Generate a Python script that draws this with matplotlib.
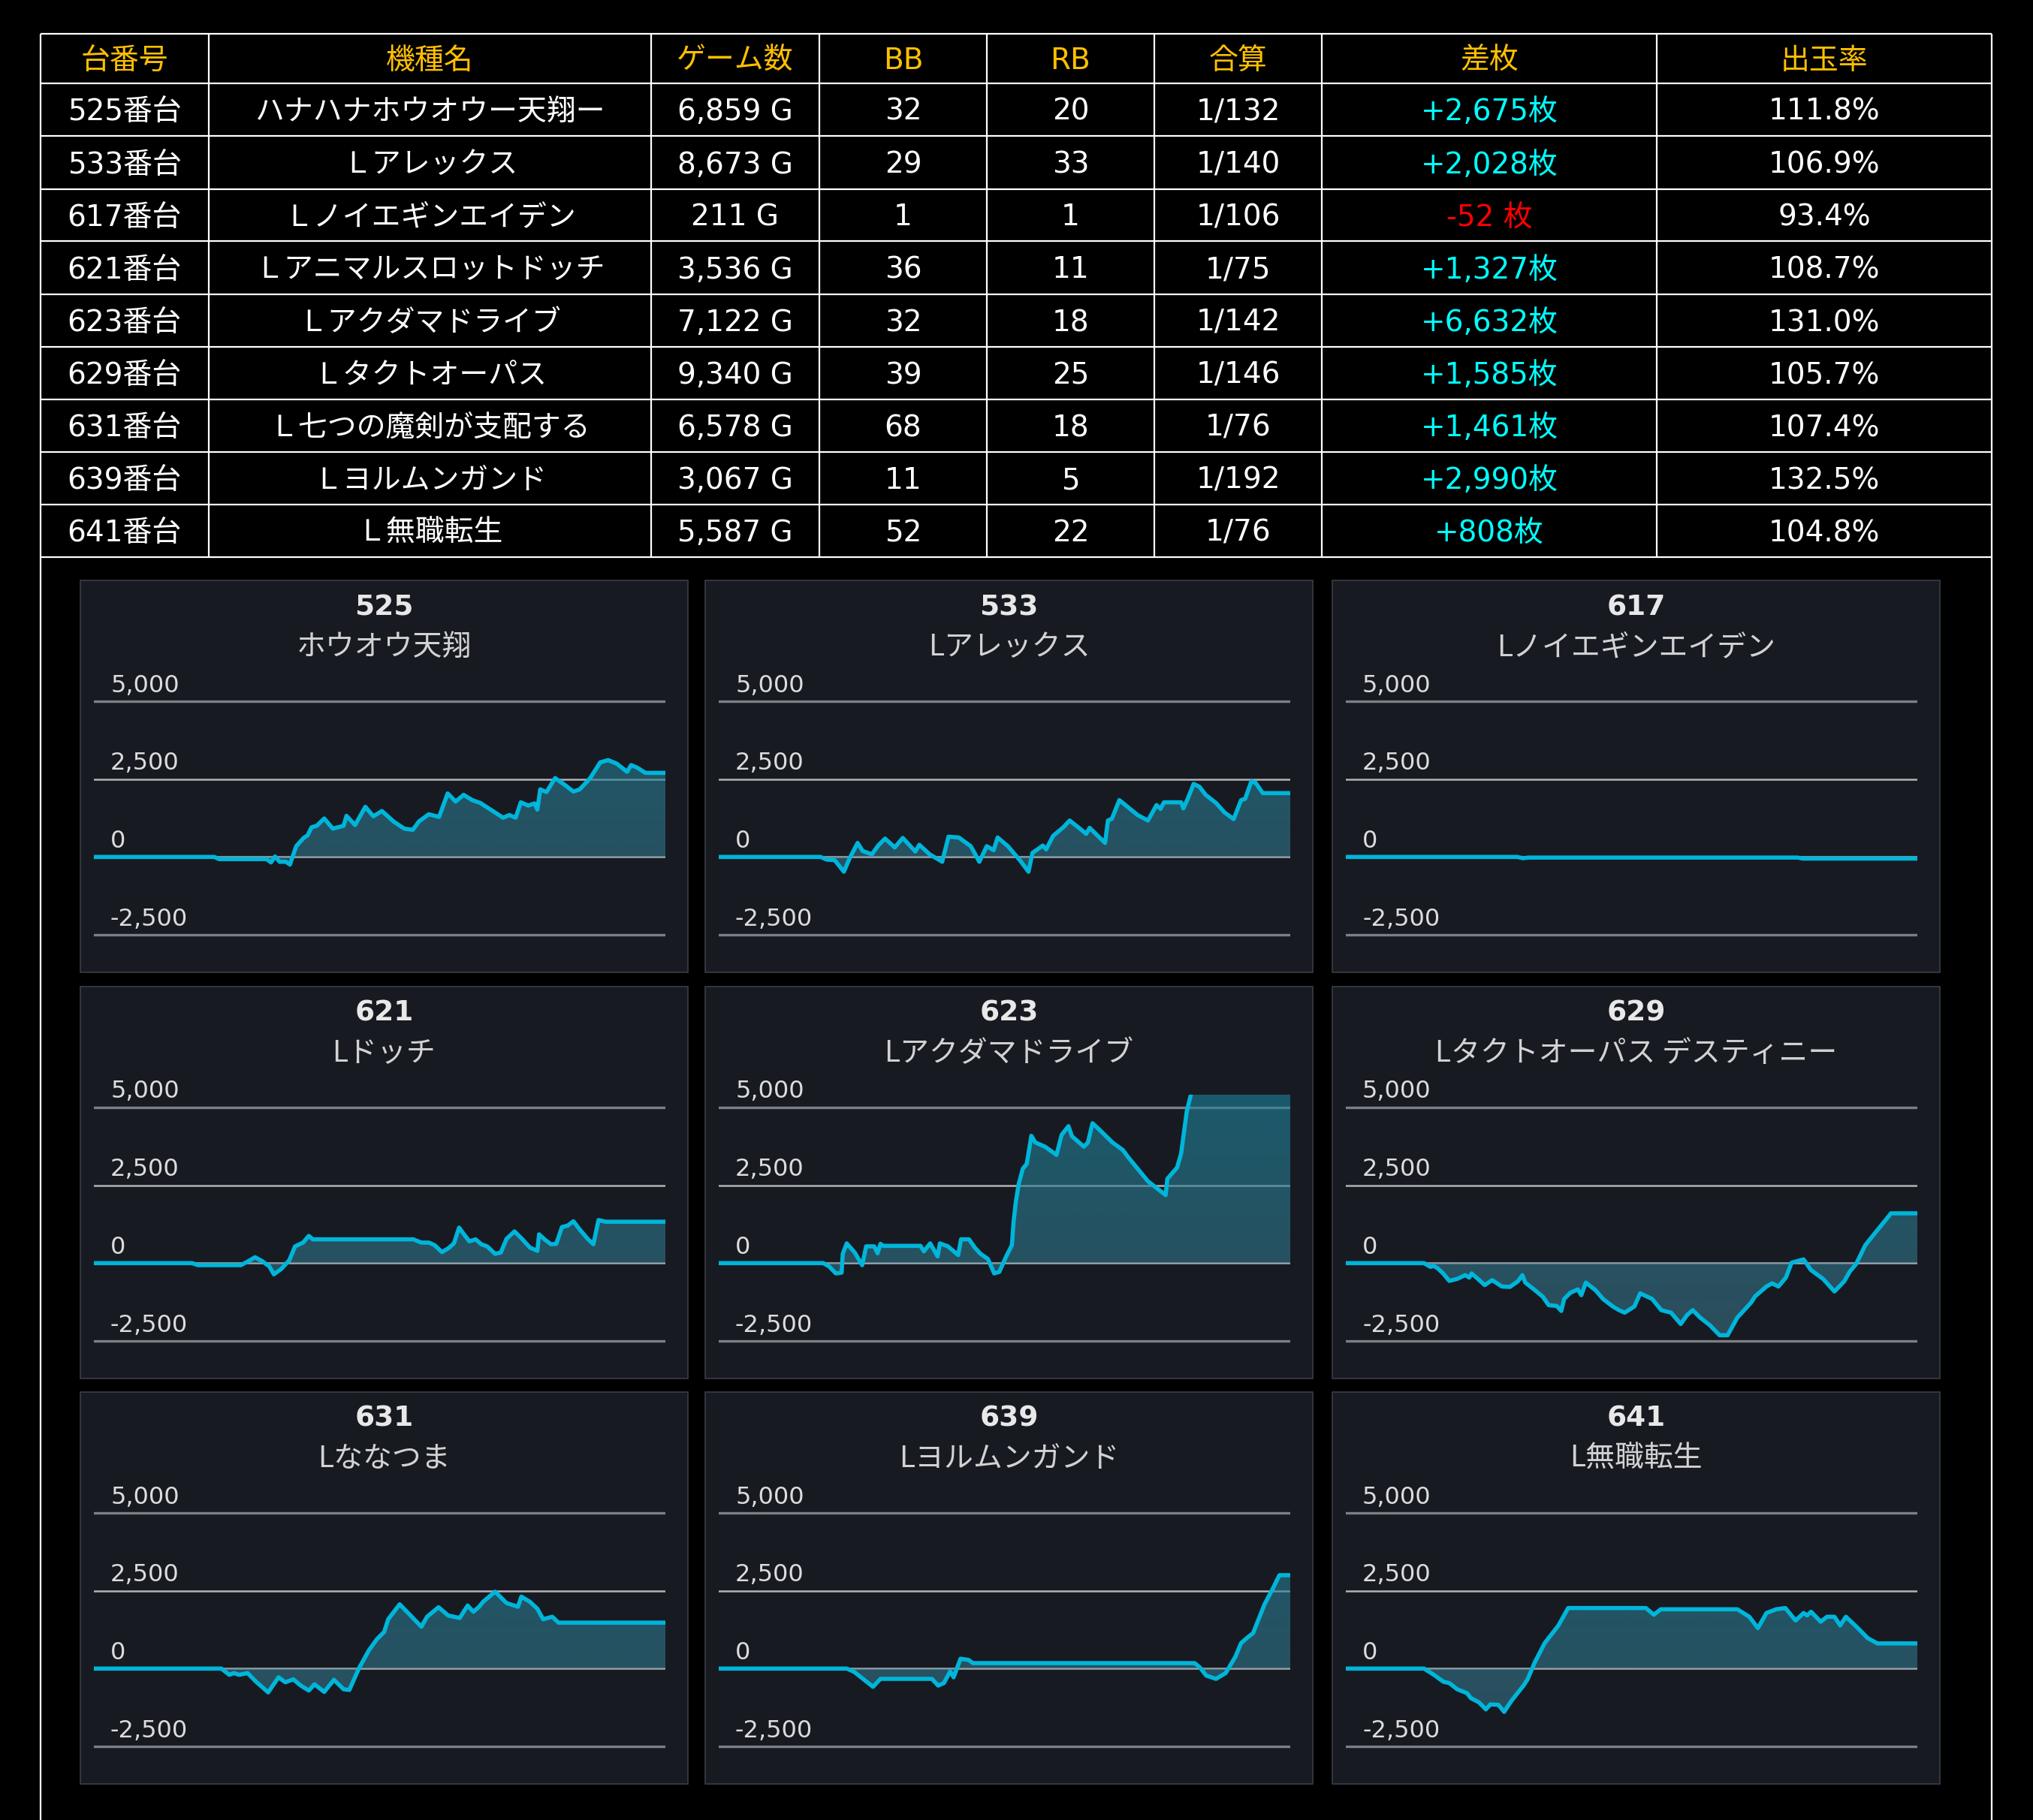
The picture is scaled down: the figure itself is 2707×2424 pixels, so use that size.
import matplotlib
matplotlib.use("agg")
import matplotlib.pyplot as plt
import matplotlib.transforms as mtransforms
from matplotlib.patches import Rectangle
import numpy as np

# ---------------- table data ----------------
headers = ['台番号', '機種名', 'ゲーム数', 'BB', 'RB', '合算', '差枚', '出玉率']
dai = ['525', '533', '617', '621', '623', '629', '631', '639', '641']
kishu = ['ハナハナホウオウー天翔ー', 'Ｌアレックス', 'Ｌノイエギンエイデン',
         'Ｌアニマルスロットドッチ', 'Ｌアクダマドライブ', 'Ｌタクトオーパス',
         'Ｌ七つの魔剣が支配する', 'Ｌヨルムンガンド', 'Ｌ無職転生']
games = [6859, 8673, 211, 3536, 7122, 9340, 6578, 3067, 5587]
bb = [32, 29, 1, 36, 32, 39, 68, 11, 52]
rb = [20, 33, 1, 11, 18, 25, 18, 5, 22]
gassan = ['1/132', '1/140', '1/106', '1/75', '1/142', '1/146', '1/76', '1/192', '1/76']
samai = [2675, 2028, -52, 1327, 6632, 1585, 1461, 2990, 808]
rate = [111.8, 106.9, 93.4, 108.7, 131.0, 105.7, 107.4, 132.5, 104.8]

# ---------------- graph data (x = % of play, y = coins) ----------------
sub_names = ['ホウオウ天翔', 'Lアレックス', 'Lノイエギンエイデン', 'Lドッチ', 'Lアクダマドライブ',
             'Lタクトオーパス デスティニー', 'Lななつま', 'Lヨルムンガンド', 'L無職転生']
y_ticks = [-2500, 0, 2500, 5000]

x525 = [0, 21.1, 21.9, 30.2, 31.0, 31.7, 32.5, 33.6, 34.3, 35.4, 36.7, 37.4, 38.1, 39.0, 40.3, 41.8,
        43.7, 44.2, 45.7, 47.5, 48.9, 50.4, 52.5, 54.3, 55.8, 56.9, 58.6, 60.4, 61.9, 63.3, 64.7,
        66.2, 67.6, 69.8, 71.6, 72.7, 73.8, 74.7, 76.0, 77.1, 77.6, 78.1, 79.2, 80.7, 82.5, 83.9,
        85.0, 86.8, 88.6, 90.0, 91.5, 93.3, 94.0, 95.1, 96.5, 100]
y525 = [0, 0, -70, -70, -175, 15, -155, -155, -245, 345, 610, 695, 955, 1000, 1235, 910,
        1000, 1320, 1025, 1610, 1305, 1475, 1130, 910, 870, 1145, 1370, 1285, 2040, 1780, 1995,
        1825, 1735, 1475, 1260, 1345, 1260, 1755, 1650, 1720, 1520, 2170, 2085, 2535, 2300, 2100,
        2170, 2520, 3040, 3110, 2995, 2735, 2950, 2865, 2700, 2700]

x533 = [0, 17.8, 18.9, 20.3, 21.9, 22.9, 24.3, 25.2, 26.8, 27.9, 29.1, 30.8, 32.2, 34.4, 35.1, 36.9,
        39.1, 40.2, 42.0, 44.1, 45.6, 46.9, 48.1, 48.8, 50.6, 52.8, 54.2, 54.9, 56.7, 57.3, 58.5,
        60.3, 61.4, 63.2, 64.3, 64.9, 67.6, 68.1, 68.8, 70.1, 73.3, 75.1, 76.6, 77.3, 77.9, 80.9,
        81.3, 82.0, 83.1, 84.1, 85.2, 87.0, 88.5, 90.1, 91.4, 92.1, 93.2, 93.9, 95.2, 100]
y533 = [0, 0, -85, -105, -475, -45, 450, 190, 85, 365, 590, 305, 610, 175, 390, 85,
        -155, 650, 625, 345, -155, 345, 215, 625, 345, -130, -475, 130, 365, 245, 675,
        955, 1170, 910, 740, 935, 450, 1170, 1230, 1825, 1345, 1170, 1665, 1545, 1755, 1755,
        1560, 1840, 2345, 2255, 1995, 1735, 1430, 1215, 1825, 1865, 2430, 2390, 2050, 2050]

x617 = [0, 30, 31, 32, 79, 80, 100]
y617 = [0, 0, -40, -20, -20, -52, -52]

x621 = [0, 17.2, 18.2, 25.7, 27.1, 28.2, 29.4, 30.7, 31.5, 32.8, 34.2, 35.2, 36.6, 37.6, 38.3,
        55.9, 57.3, 58.6, 59.6, 60.9, 62.0, 63.0, 63.9, 64.7, 65.7, 66.8, 67.8, 68.8, 70.2, 71.2,
        72.2, 73.6, 74.9, 76.3, 77.6, 77.9, 79.0, 80.0, 80.9, 81.9, 82.9, 83.9, 85.1, 86.4, 87.4,
        88.3, 89.5, 100]
y621 = [0, 0, -65, -65, 70, 190, 70, -105, -360, -185, 95, 540, 660, 875, 765,
        765, 660, 660, 580, 355, 475, 635, 1140, 940, 700, 765, 605, 540, 300, 340,
        780, 1020, 780, 500, 395, 925, 740, 605, 620, 1160, 1205, 1345, 1060, 780, 605,
        1385, 1330, 1330]

x623 = [0, 18.3, 19.3, 20.5, 21.5, 21.7, 22.4, 23.8, 25.1, 25.8, 27.2, 27.8, 28.3, 28.8, 35.3,
        35.9, 37.0, 38.3, 38.7, 40.1, 41.9, 42.4, 43.8, 44.8, 45.8, 47.1, 48.2, 49.1, 50.3, 51.3,
        51.6, 52.0, 52.5, 53.2, 53.9, 54.7, 55.4, 57.1, 59.1, 60.0, 61.2, 61.8, 63.9, 64.6, 65.4,
        66.9, 68.9, 70.7, 71.7, 75.1, 76.5, 78.2, 78.5, 80.2, 80.9, 81.9, 82.6, 83.5, 100]
y623 = [0, 0, -105, -330, -305, 300, 635, 340, -65, 540, 540, 315, 620, 555, 555,
        380, 635, 215, 635, 540, 260, 765, 765, 500, 300, 135, -330, -280, 215, 580,
        1345, 1985, 2550, 3030, 3190, 4090, 3875, 3740, 3475, 4120, 4400, 4075, 3740, 3875, 4495,
        4235, 3875, 3635, 3390, 2630, 2430, 2185, 2710, 3070, 3515, 4880, 5400, 6632, 6632]

x629 = [0, 13.7, 14.8, 15.4, 16.1, 17.1, 18.1, 19.5, 20.9, 21.6, 22.0, 23.1, 24.3, 25.6, 27.3,
        28.7, 30.1, 30.9, 31.4, 33.1, 34.5, 35.5, 36.9, 37.7, 38.2, 39.3, 40.6, 41.2, 42.0, 43.7,
        45.0, 46.7, 47.8, 48.8, 50.5, 51.5, 53.6, 55.2, 56.9, 58.6, 59.7, 60.7, 62.0, 63.7, 65.4,
        66.8, 68.5, 70.9, 71.6, 73.6, 74.6, 75.7, 77.0, 78.0, 80.1, 81.4, 83.5, 85.5, 87.2, 88.2,
        89.3, 90.9, 93.0, 95.4, 100]
y629 = [0, 0, -120, -90, -170, -345, -570, -505, -385, -465, -330, -505, -705, -545, -750,
        -765, -585, -385, -625, -870, -1085, -1350, -1375, -1535, -1150, -950, -845, -1030, -625, -870,
        -1150, -1390, -1510, -1590, -1390, -970, -1150, -1510, -1590, -1955, -1670, -1510, -1750, -1995, -2315,
        -2315, -1750, -1270, -1070, -750, -650, -750, -465, 15, 120, -225, -505, -910, -585, -265,
        -25, 580, 1060, 1600, 1600]

x631 = [0, 22.3, 23.7, 24.5, 25.4, 26.9, 28.4, 30.5, 32.3, 33.5, 34.9, 36.2, 37.6, 38.6, 40.3,
        42.0, 43.7, 44.7, 46.4, 48.1, 49.5, 50.8, 51.5, 53.5, 55.2, 57.3, 58.3, 60.3, 62.0, 64.0,
        65.4, 66.4, 67.4, 68.1, 70.2, 72.2, 74.2, 74.8, 76.3, 77.6, 78.6, 80.2, 81.3, 100]
y631 = [0, 0, -200, -145, -200, -145, -425, -765, -280, -440, -345, -545, -705, -505, -750,
        -360, -665, -685, 15, 580, 940, 1180, 1585, 2065, 1745, 1345, 1665, 1970, 1705, 1625,
        2025, 1825, 1985, 2145, 2470, 2105, 1985, 2310, 2145, 1920, 1585, 1665, 1475, 1475]

x639 = [0, 22.4, 23.7, 27.0, 28.3, 37.3, 38.4, 39.4, 40.5, 41.1, 42.3, 43.7, 44.5, 83.3, 84.3,
        85.3, 87.0, 88.7, 90.4, 91.4, 92.4, 93.5, 95.5, 96.9, 98.1, 100]
y639 = [0, 0, -105, -585, -330, -330, -545, -465, -90, -280, 315, 280, 175, 175, 15,
        -225, -330, -145, 380, 820, 980, 1140, 2065, 2550, 3000, 3000]

x641 = [0, 13.7, 15.4, 17.1, 18.1, 19.5, 21.2, 21.9, 23.3, 24.5, 25.3, 26.7, 27.7, 29.0, 31.1,
        31.8, 33.1, 34.8, 37.2, 38.9, 52.5, 53.9, 55.1, 68.5, 70.6, 72.1, 73.6, 75.3, 76.9, 78.7,
        80.1, 80.7, 81.4, 83.1, 84.2, 85.5, 86.5, 87.5, 89.6, 91.3, 93.0, 100]
y641 = [0, 0, -200, -425, -465, -665, -790, -950, -1085, -1310, -1150, -1165, -1390, -1030, -545,
        -345, 215, 820, 1385, 1945, 1945, 1730, 1905, 1905, 1665, 1300, 1785, 1905, 1945, 1545,
        1785, 1705, 1825, 1505, 1665, 1665, 1385, 1665, 1300, 980, 808, 808]

series_x = [x525, x533, x617, x621, x623, x629, x631, x639, x641]
series_y = [y525, y533, y617, y621, y623, y629, y631, y639, y641]

# ---------------- figure ----------------
W, H = 2707, 2424
DPI = 100
fig = plt.figure(figsize=(W / DPI, H / DPI), dpi=DPI, facecolor='black')
bg = fig.add_axes([0, 0, 1, 1])
bg.set_xlim(0, W)
bg.set_ylim(H, 0)
bg.axis('off')
bg.set_facecolor('black')

tbl_font = ['DejaVu Sans', 'Noto Sans CJK JP']
jp = ['Noto Sans CJK JP', 'DejaVu Sans']
col_edges = [53.6, 277.7, 867, 1091, 1314, 1537, 1760, 2206, 2652]
row_edges = [45, 111, 181, 252, 321, 392, 462, 532, 602, 672, 742]
line_kw = dict(color='white', lw=1.6, solid_capstyle='butt')

# table grid
for y in row_edges:
    bg.plot([col_edges[0], col_edges[-1]], [y, y], **line_kw)
for x in col_edges[1:-1]:
    bg.plot([x, x], [row_edges[0], row_edges[-1]], **line_kw)
# outer frame runs down past the graphs
for x in (col_edges[0], col_edges[-1]):
    bg.plot([x, x], [row_edges[0], H + 5], **line_kw)

cx = [(col_edges[i] + col_edges[i + 1]) / 2 for i in range(len(col_edges) - 1)]
hy = (row_edges[0] + row_edges[1]) / 2 + 3
for c, h in zip(cx, headers):
    bg.text(c, hy, h, color='#FFC000', fontsize=28, family=tbl_font, ha='center', va='center')

for i in range(len(dai)):
    yc = (row_edges[i + 1] + row_edges[i + 2]) / 2 + 3
    sa = samai[i]
    if sa >= 0:
        sa_txt, sa_col = f'+{sa:,}枚', '#00FFFF'
    else:
        sa_txt, sa_col = f'{sa:,} 枚', '#FF0000'
    cells = [f'{dai[i]}番台', kishu[i], f'{games[i]:,} G', str(bb[i]), str(rb[i]),
             gassan[i], sa_txt, f'{rate[i]:.1f}%']
    cols = ['white'] * 6 + [sa_col, 'white']
    for c, t, co in zip(cx, cells, cols):
        bg.text(c, yc, t, color=co, fontsize=28, family=tbl_font, ha='center', va='center')

# ---------------- small graphs ----------------
panel_left = [107, 939, 1774]
panel_top = [773, 1314, 1854]
panel_w, panel_h = 809, 522
YMIN, YMAX = -3000, 5400
px_per_unit = 311 / 7500.0

top_rgb = np.array([29, 133, 157]) / 255.0
bot_rgb = np.array([62, 111, 130]) / 255.0
t = np.linspace(0, 1, 256)[:, None]
grad = np.zeros((256, 1, 4))
grad[:, :, :3] = (bot_rgb * (1 - t))[:, None, :] + (top_rgb * t)[:, None, :]
grad[:, :, 3] = 0.6

label_off = mtransforms.ScaledTranslation(22 / DPI, 21 / DPI, fig.dpi_scale_trans)

for k in range(9):
    r, c = divmod(k, 3)
    pl, pt = panel_left[c], panel_top[r]
    bg.add_patch(Rectangle((pl, pt), panel_w, panel_h, facecolor='#181a22',
                           edgecolor='#3a3d46', lw=1.2))
    pcx = pl + panel_w / 2
    bg.text(pcx, pt + 36, dai[k], color='#e8e8e8', fontsize=27, fontweight='bold',
            family='DejaVu Sans', ha='center', va='center')
    bg.text(pcx, pt + 89, sub_names[k], color='#d2d2d2', fontsize=28, family=jp,
            ha='center', va='center')

    a_l = pl + 18
    a_r = pl + panel_w - 30
    a_top = pt + 161 - (YMAX - 5000) * px_per_unit
    a_bot = pt + 472 + (-2500 - YMIN) * px_per_unit
    ax = fig.add_axes([a_l / W, 1 - a_bot / H, (a_r - a_l) / W, (a_bot - a_top) / H])
    ax.patch.set_alpha(0)
    for s in ax.spines.values():
        s.set_visible(False)

    xs, ys = series_x[k], series_y[k]
    im = ax.imshow(grad, extent=[0, 100, YMIN, YMAX], aspect='auto', origin='lower',
                   interpolation='bilinear', zorder=1)
    poly = ax.fill_between(xs, ys, 0, facecolor='none', edgecolor='none')
    im.set_clip_path(poly.get_paths()[0], ax.transData)
    ax.plot(xs, ys, color='#00b5da', lw=4.0, solid_joinstyle='round', zorder=3)

    ax.set_xlim(0, 100)
    ax.set_ylim(YMIN, YMAX)
    ax.set_xticks([])
    ax.set_yticks(y_ticks)
    ax.tick_params(axis='y', length=0, labelleft=False)
    ax.set_axisbelow(True)
    ax.grid(axis='y')
    for v, gl in zip(y_ticks, ax.get_ygridlines()):
        if v in (5000, -2500):
            gl.set_color('#7d7f87')
            gl.set_linewidth(2.4)
        else:
            gl.set_color('#b0b2b6')
            gl.set_linewidth(1.8)

    trans = mtransforms.blended_transform_factory(ax.transAxes, ax.transData) + label_off
    for v in y_ticks:
        ax.text(0, v, f'{v:,}', transform=trans, color='#dcdcdc', fontsize=23,
                family='DejaVu Sans', ha='left', va='center')

fig.savefig('out.png', dpi=DPI, facecolor='black')
plt.close()
